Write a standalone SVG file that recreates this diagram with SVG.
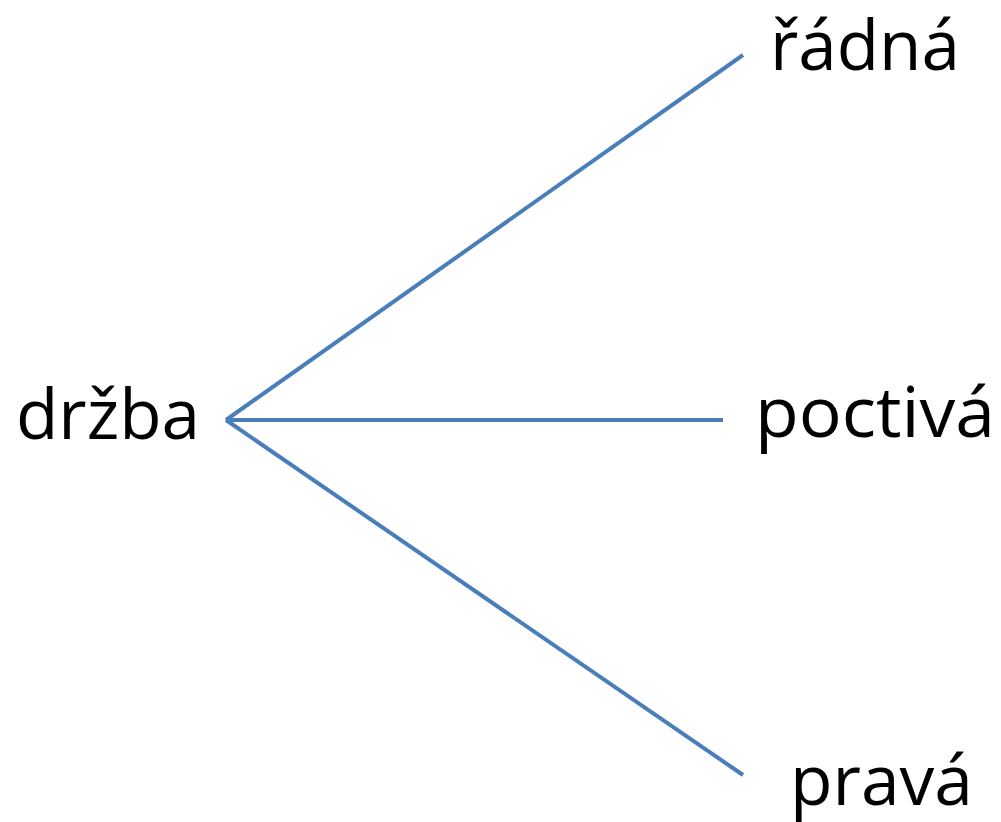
<svg xmlns="http://www.w3.org/2000/svg" width="1001" height="822" viewBox="0 0 1001 822">
<style>
.t{font-family:"Open Sans","Liberation Sans",sans-serif;font-size:70px;fill:#000}
.c{stroke:#4a7ebb;stroke-width:4;fill:none}
</style>
<rect width="1001" height="822" fill="#fff"/>
<g id="connectors">
<line class="c" x1="226" y1="420" x2="743" y2="55"/>
<line class="c" x1="226" y1="420" x2="723" y2="420"/>
<line class="c" x1="226" y1="420" x2="743" y2="775"/>
</g>
<g id="drzba"><text class="t" x="16" y="439" textLength="184" lengthAdjust="spacingAndGlyphs">držba</text></g>
<g id="radna"><text class="t" x="770" y="70" textLength="190" lengthAdjust="spacingAndGlyphs">řádná</text></g>
<g id="poctiva"><text class="t" x="755" y="437" textLength="240" lengthAdjust="spacingAndGlyphs">poctivá</text></g>
<g id="prava"><text class="t" x="790" y="805" textLength="183" lengthAdjust="spacingAndGlyphs">pravá</text></g>
</svg>
